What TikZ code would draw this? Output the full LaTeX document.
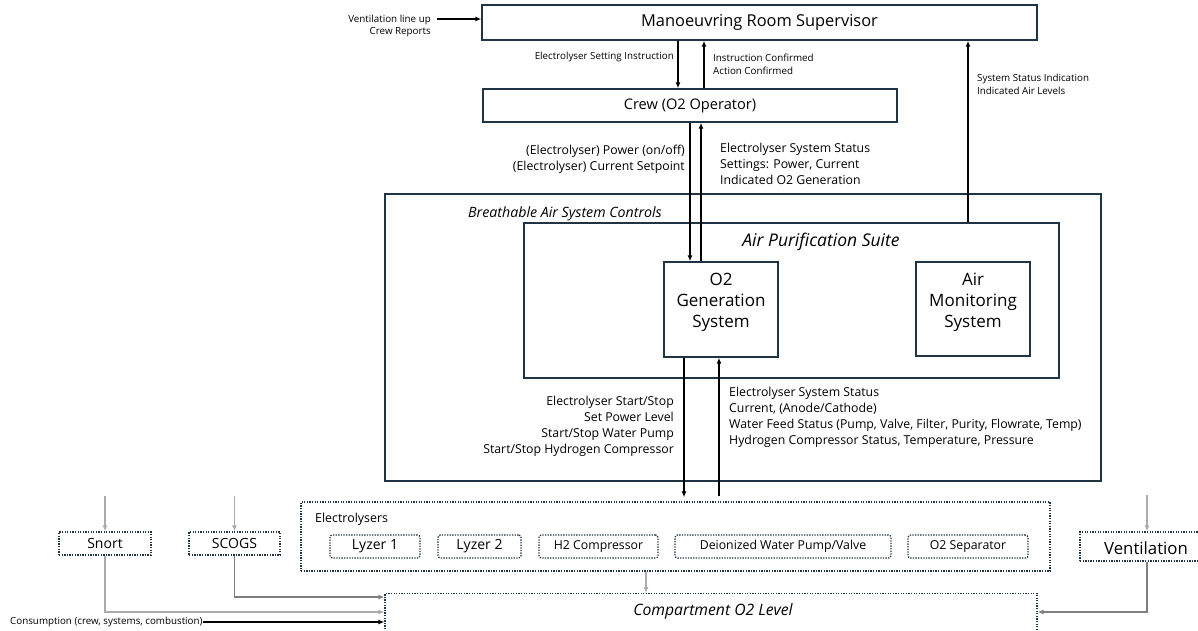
\documentclass[tikz,border=0pt]{standalone}
\usepackage{fontspec}
\setmainfont{Open Sans}
\usetikzlibrary{arrows.meta,calc}
\definecolor{navy}{HTML}{1F3444}
\definecolor{lgray}{HTML}{ABABAB}
\definecolor{dgray}{HTML}{7F7F7F}
\begin{document}
\begin{tikzpicture}[x=1pt,y=-1pt,
  box/.style={draw=navy, line width=1.4pt, inner sep=0pt, align=center},
  dbox/.style={draw=navy, line width=1.3pt, dash pattern=on 1.3pt off 1.3pt, inner sep=0pt, align=center},
  rdbox/.style={dbox, rounded corners=2.5pt},
  arr/.style={-{Latex[length=6pt,width=5pt]}, line width=1.2pt, black},
  garr/.style={-{Latex[length=6pt,width=5pt]}, line width=1.4pt, lgray},
  darr/.style={-{Latex[length=6pt,width=5pt]}, line width=1.4pt, dgray},
  fS/.style={font=\fontsize{9.8}{13}\selectfont, inner sep=0pt},
  fM/.style={font=\fontsize{12.3}{16}\selectfont, inner sep=0pt},
  fI/.style={font=\fontsize{12.3}{14}\selectfont},
  fX/.style={font=\fontsize{17}{21}\selectfont, inner sep=0pt, align=center},
]
\useasboundingbox (0,0) rectangle (1198,630);
% main boxes
\node[box, font=\fontsize{16.4}{20}\selectfont, minimum width=555, minimum height=35] (mrs) at (759.5,22.5) {Manoeuvring Room Supervisor};
\node[box, font=\fontsize{14.6}{18}\selectfont, minimum width=414, minimum height=33] (crew) at (690,105.5) {Crew (O2 Operator)};
\node[box, minimum width=716, minimum height=287] (bas) at (743,337.5) {};
\node[box, minimum width=535, minimum height=155] (aps) at (791.5,300.5) {};
\node[box, minimum width=114, minimum height=95] (o2g) at (721,309.5) {};
\node[fX] (o2gt) at (721,302) {O2\\Generation\\System};
\node[box, minimum width=114, minimum height=94] (amon) at (973,309) {};
\node[fX] (amont) at (973,302) {Air\\Monitoring\\System};
% titles
\node[font=\fontsize{14.2}{16}\selectfont\itshape, inner sep=0pt, anchor=west] (bast) at (468,213.5) {Breathable Air System Controls};
\node[font=\fontsize{17.5}{20}\selectfont\itshape, inner sep=0pt] (apst) at (821,241.5) {Air Purification Suite};
% electrolysers
\node[dbox, minimum width=749, minimum height=69] (elec) at (675.5,536.5) {};
\node[font=\fontsize{12.4}{14}\selectfont, inner sep=0pt, anchor=west] (elect) at (315,519) {Electrolysers};
\node[rdbox, font=\fontsize{14}{16}\selectfont, minimum width=90, minimum height=23] (ly1) at (375,546.5) {Lyzer 1};
\node[rdbox, font=\fontsize{14}{16}\selectfont, minimum width=83, minimum height=23] (ly2) at (479.5,546.5) {Lyzer 2};
\node[rdbox, fI, minimum width=119, minimum height=23] (h2c) at (598.5,546.5) {H2 Compressor};
\node[rdbox, fI, minimum width=216, minimum height=23] (diw) at (783,546.5) {Deionized Water Pump/Valve};
\node[rdbox, fI, minimum width=120, minimum height=23] (o2s) at (968,546.5) {O2 Separator};
% external boxes
\node[dbox, font=\fontsize{14}{16}\selectfont, minimum width=92, minimum height=23] (snort) at (105,543.5) {Snort};
\node[dbox, font=\fontsize{14}{16}\selectfont, minimum width=91, minimum height=23] (scogs) at (234.5,543.5) {SCOGS};
\node[dbox, minimum width=134, minimum height=29] (vent) at (1147,546.5) {};
\node[font=\fontsize{16.8}{18}\selectfont, inner sep=0pt] (ventt) at (1146,548) {Ventilation};
\node[dbox, minimum width=652, minimum height=50, anchor=north] (comp) at (711,593) {};
\node[font=\fontsize{15.7}{18}\selectfont\itshape, inner sep=0pt] (compt) at (713,611.5) {Compartment O2 Level};
% labels
\node[fS, align=right, font=\fontsize{9.8}{12}\selectfont, anchor=north east] (vlab) at (431,15) {Ventilation line up\\Crew Reports};
\node[fS, anchor=east] (l1) at (674,57) {Electrolyser Setting Instruction};
\node[fS, align=left, anchor=north west] (l2) at (713,54) {Instruction Confirmed\\Action Confirmed};
\node[fM, align=right, anchor=north east] (l3) at (685,145) {(Electrolyser) Power (on/off)\\(Electrolyser) Current Setpoint};
\node[fM, align=left, anchor=north west] (l4) at (720,143) {Electrolyser System Status\\Settings: Power, Current\\Indicated O2 Generation};
\node[fS, align=left, anchor=north west] (l5) at (977,74) {System Status Indication\\Indicated Air Levels};
\node[fM, align=right, anchor=north east] (l6) at (674,396) {Electrolyser Start/Stop\\Set Power Level\\Start/Stop Water Pump\\Start/Stop Hydrogen Compressor};
\node[fM, align=left, anchor=north west] (l7) at (729,387) {Electrolyser System Status\\Current, (Anode/Cathode)\\Water Feed Status (Pump, Valve, Filter, Purity, Flowrate, Temp)\\Hydrogen Compressor Status, Temperature, Pressure};
\node[fS, anchor=west] (cons) at (10,622) {Consumption (crew, systems, combustion)};
% x positions
\coordinate (xa) at (678,0);
\coordinate (xb) at (704,0);
\coordinate (xc) at (690,0);
\coordinate (xd) at (701,0);
\coordinate (xe) at (968,0);
\coordinate (xf) at (684,0);
\coordinate (xg) at (719,0);
\coordinate (xh) at (646,0);
\coordinate (ys) at (0,597);
\coordinate (yn) at (0,612);
\coordinate (vin) at (437,19);
\coordinate (snin) at (105,496);
\coordinate (scin) at (234.5,496);
\coordinate (vnin) at (1147,495);
% connectors
\draw[arr] (vin) -- (vin -| mrs.west);
\draw[arr] (xa |- mrs.south) -- (xa |- crew.north);
\draw[arr] (xb |- crew.north) -- (xb |- mrs.south);
\draw[arr] (xc |- crew.south) -- (xc |- o2g.north);
\draw[arr] (xd |- o2g.north) -- (xd |- crew.south);
\draw[arr] (xe |- aps.north) -- (xe |- mrs.south);
\draw[arr, shorten >=4pt] (xf |- o2g.south) -- (xf |- elec.north);
\draw[arr, shorten <=5pt] (xg |- elec.north) -- (xg |- o2g.south);
\draw[garr] (xh |- elec.south) -- (xh |- comp.north);
\draw[garr] (snin) -- (snort.north);
\draw[garr] (scin) -- (scogs.north);
\draw[garr] (vnin) -- (vent.north);
\draw[darr] (scogs.south) |- (ys -| comp.west);
\draw[garr] (snort.south) |- (yn -| comp.west);
\draw[arr] (cons.east) -- (cons.east -| comp.west);
\draw[darr] (vent.south) |- (yn -| comp.east);
\end{tikzpicture}
\end{document}
